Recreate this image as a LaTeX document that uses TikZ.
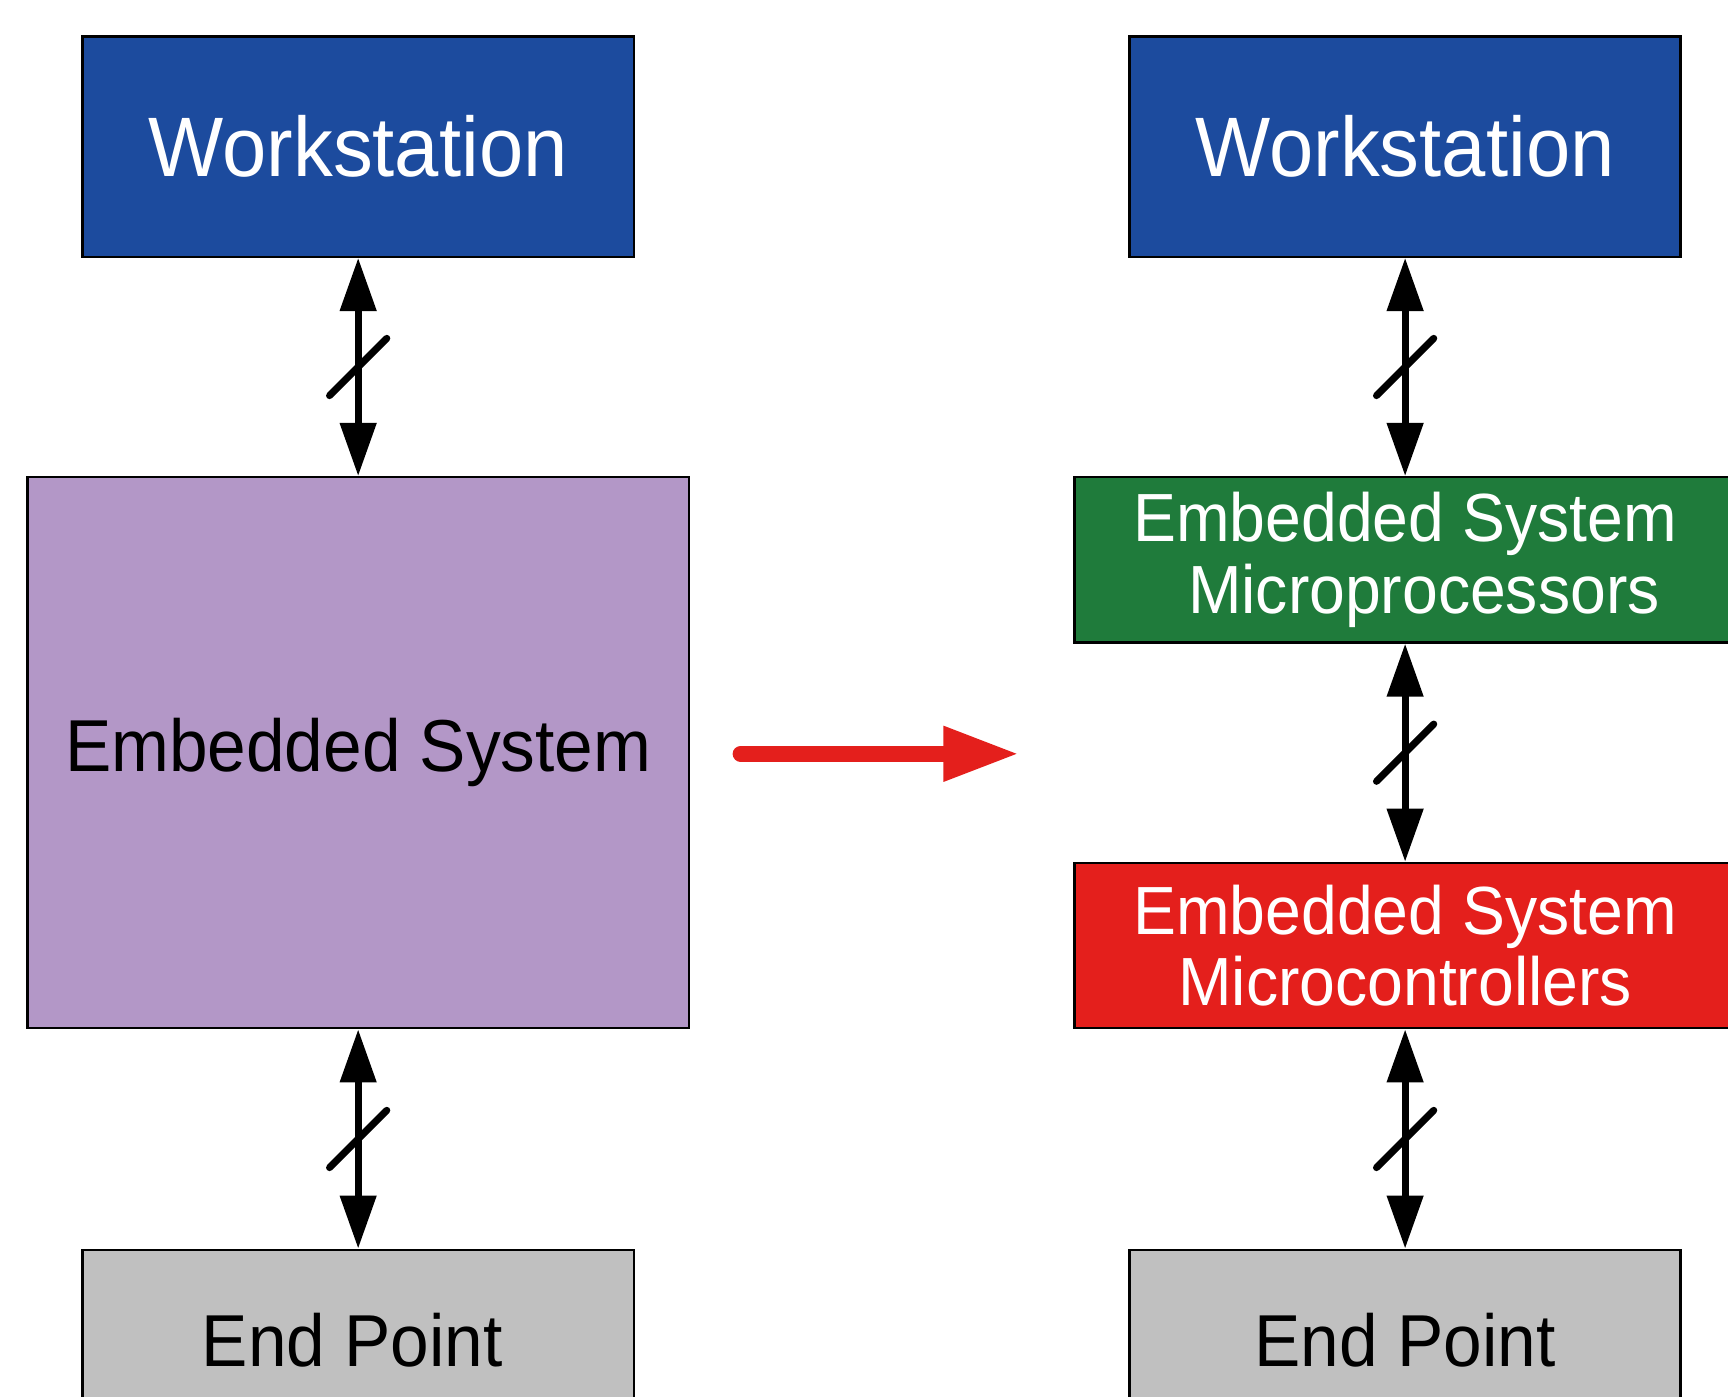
\documentclass[tikz,border=0pt]{standalone}
\usepackage{fontspec}
\setmainfont[FakeStretch=0.943]{Liberation Sans}
\usetikzlibrary{arrows.meta,decorations.markings}
\definecolor{wsblue}{HTML}{1C4B9E}
\definecolor{espurple}{HTML}{B397C7}
\definecolor{mpgreen}{HTML}{1F7B3B}
\definecolor{mcred}{HTML}{E41F1C}
\definecolor{epgray}{HTML}{C0C0C0}
\tikzset{
 box/.style={draw,line width=.6pt,inner sep=0,align=center},
 wsbox/.style={box,fill=wsblue,text=white,minimum width=5cm,minimum height=2cm,font=\fontsize{21.8}{25}\selectfont},
 esbox/.style={box,fill=espurple,minimum width=6cm,minimum height=5cm,font=\fontsize{19}{22}\selectfont},
 epbox/.style={box,fill=epgray,minimum width=5cm,minimum height=1.65cm,font=\fontsize{19}{22}\selectfont},
 chipbox/.style={box,text=white,minimum width=6cm,minimum height=1.5cm,font=\fontsize{17.6}{18.5}\selectfont},
 bus/.style={line width=1.8pt,{Triangle[length=13.7pt,width=9.1pt]}-{Triangle[length=13.7pt,width=9.1pt]},postaction={decorate},decoration={markings,mark=at position .5 with {\draw[line width=1.8pt,line cap=round,-] (0.52,-0.52) -- (-0.52,0.52);}}},
 migrate/.style={draw=mcred,line width=4.1pt,line cap=round,-{Triangle[length=19.6pt,width=13.2pt]}}
}

\begin{document}
\begin{tikzpicture}[x=0.5cm,y=0.5cm]
\path[use as bounding box] (0,0) rectangle (31.36,-25.34);
% before
\node[wsbox] (ws) at (6.5,-2.66) {Workstation};
\node[esbox] (es) at (6.5,-13.66) {Embedded System};
\node[epbox] (ep) at (6.5,-24.33) {\mbox{End Point\hspace{3pt}}};
\draw[bus] (ws) -- (es);
\draw[bus] (es) -- (ep);
% after
\node[wsbox] (wsr) at (25.5,-2.66) {Workstation};
\node[chipbox,fill=mpgreen] (esmp) at (25.5,-10.16) {Embedded System\\\hspace*{0.55em}Microprocessors};
\node[chipbox,fill=mcred] (esmc) at (25.5,-17.16) {Embedded System\\Microcontrollers};
\node[epbox] (epr) at (25.5,-24.33) {End Point};
\draw[bus] (wsr) -- (esmp);
\draw[bus] (esmp) -- (esmc);
\draw[bus] (esmc) -- (epr);
% split
\coordinate (go) at (13.44,-13.68);
\coordinate (come) at (18.5,-13.68);
\draw[migrate] (go) -- (come);
\end{tikzpicture}
\end{document}
